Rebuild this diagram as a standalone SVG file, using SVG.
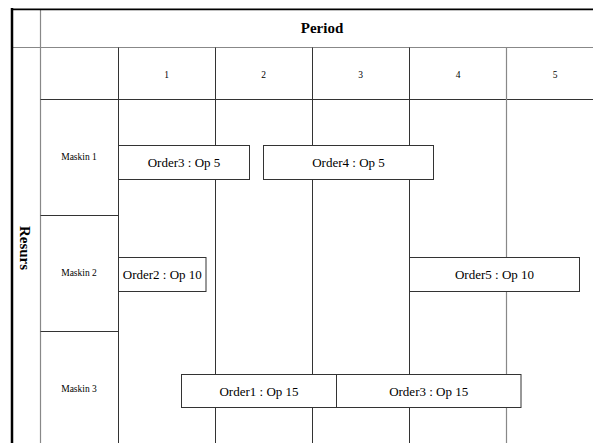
<svg xmlns="http://www.w3.org/2000/svg" width="593" height="443" viewBox="0 0 593 443">
<style>
.g{stroke:#333;stroke-width:1;fill:none}
.lg{stroke:#888;stroke-width:1.2;fill:none}
.box{fill:#fff;stroke:#333;stroke-width:1}
.t{font-family:"Liberation Serif","Times New Roman",serif;fill:#000;text-anchor:middle}
.bt{font-size:13px}
.sm{font-size:9.5px}
.hd{font-size:15px;font-weight:bold}
</style>
<rect width="593" height="443" fill="#fff"/>
<g id="grid">
<line class="lg" x1="40.5" y1="9" x2="40.5" y2="443"/>
<line class="lg" x1="12" y1="47.5" x2="593" y2="47.5"/>
<line class="g" x1="40.5" y1="99.5" x2="593" y2="99.5"/>
<line class="g" x1="118.5" y1="47.5" x2="118.5" y2="443"/>
<line class="g" x1="215.5" y1="47.5" x2="215.5" y2="443"/>
<line class="g" x1="312.5" y1="47.5" x2="312.5" y2="443"/>
<line class="g" x1="409.5" y1="47.5" x2="409.5" y2="443"/>
<line class="lg" x1="506.5" y1="47.5" x2="506.5" y2="443"/>
<line class="g" x1="40.5" y1="215.5" x2="118.5" y2="215.5"/>
<line class="g" x1="40.5" y1="331.5" x2="118.5" y2="331.5"/>
<line stroke="#000" stroke-width="2.5" x1="12" y1="8" x2="12" y2="443"/>
<line stroke="#000" stroke-width="1.8" x1="11" y1="9.3" x2="593" y2="9.3"/>
</g>
<g id="headers">
<text class="t hd" x="322" y="33">Period</text>
<text class="t hd" transform="translate(20,248) rotate(90)">Resurs</text>
<text class="t sm" x="166.5" y="78">1</text>
<text class="t sm" x="263.5" y="78">2</text>
<text class="t sm" x="360.5" y="78">3</text>
<text class="t sm" x="458" y="78">4</text>
<text class="t sm" x="555" y="78">5</text>
<text class="t sm" x="79" y="160">Maskin 1</text>
<text class="t sm" x="79" y="276">Maskin 2</text>
<text class="t sm" x="79" y="392">Maskin 3</text>
</g>
<g id="o3op5"><rect class="box" x="118.5" y="145.5" width="131" height="34"/><text class="t bt" x="184" y="167">Order3 : Op 5</text></g>
<g id="o4op5"><rect class="box" x="263.5" y="145.5" width="170" height="34"/><text class="t bt" x="348.5" y="167">Order4 : Op 5</text></g>
<g id="o2op10"><rect class="box" x="118.5" y="257.5" width="87.5" height="34"/><text class="t bt" x="162.3" y="279">Order2 : Op 10</text></g>
<g id="o5op10"><rect class="box" x="409.5" y="257.5" width="170" height="34"/><text class="t bt" x="494.5" y="279">Order5 : Op 10</text></g>
<g id="o1op15"><rect class="box" x="181.5" y="374.5" width="155" height="33"/><text class="t bt" x="259" y="396">Order1 : Op 15</text></g>
<g id="o3op15"><rect class="box" x="336.5" y="374.5" width="184.5" height="33"/><text class="t bt" x="428.7" y="396">Order3 : Op 15</text></g>
</svg>
